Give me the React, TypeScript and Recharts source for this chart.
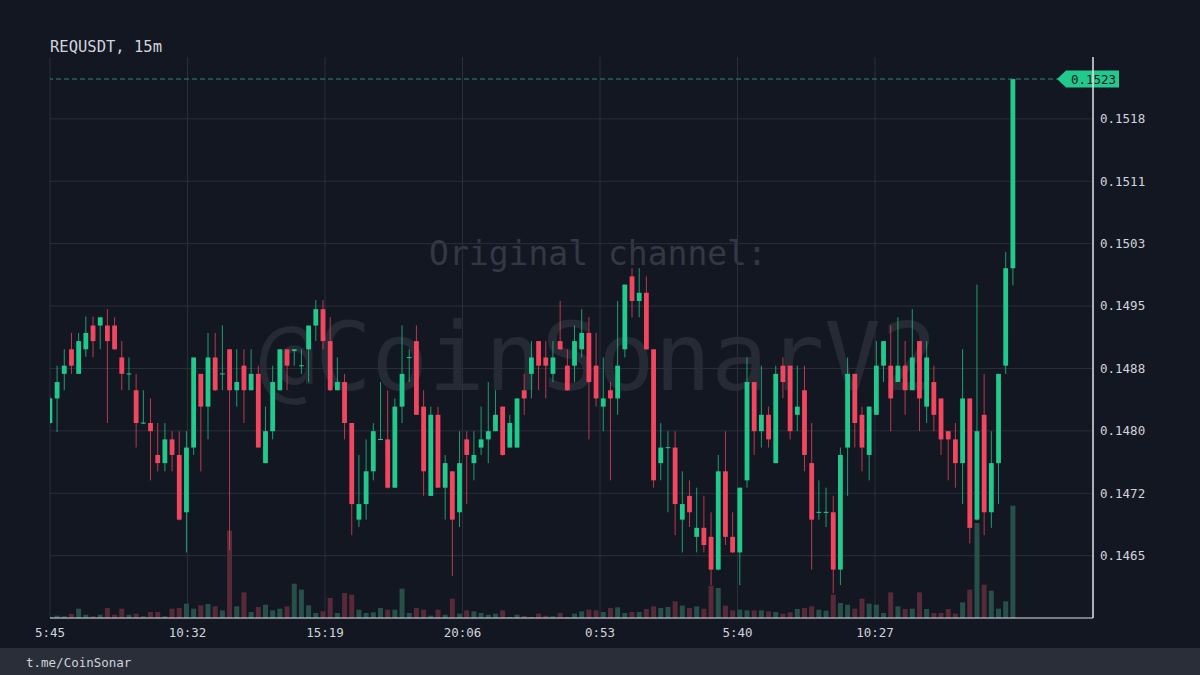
import React from "react";
import {
  ComposedChart,
  Bar,
  Cell,
  XAxis,
  YAxis,
  CartesianGrid,
  ReferenceLine,
} from "recharts";

// REQUSDT 15m candles
const OPEN = [
  0.1481, 0.1484, 0.1487, 0.149, 0.1487, 0.149, 0.14929, 0.14929, 0.14929, 0.14929,
  0.1489, 0.148695, 0.1485, 0.148095, 0.1481, 0.14771, 0.14761, 0.1479, 0.14771, 0.14701,
  0.1478, 0.1487, 0.1483, 0.1489, 0.148695, 0.149, 0.1485, 0.1488, 0.1485, 0.1487,
  0.14761, 0.148, 0.1485, 0.149, 0.14898, 0.148795, 0.149, 0.14929, 0.14949, 0.1491,
  0.1485, 0.1486, 0.1481, 0.14692, 0.14711, 0.14751, 0.147895, 0.1479, 0.14731, 0.1483,
  0.148895, 0.1491, 0.1483, 0.14721, 0.1482, 0.14731, 0.14751, 0.14701, 0.1479, 0.14761,
  0.1478, 0.1479, 0.148, 0.1483, 0.1478, 0.1478, 0.1485, 0.1487, 0.1491, 0.1489,
  0.1487, 0.1491, 0.1488, 0.1488, 0.149, 0.1492, 0.1488, 0.1483, 0.1485, 0.1484,
  0.149, 0.14989, 0.14959, 0.14969, 0.149, 0.14761, 0.147795, 0.1478, 0.14692, 0.14721,
  0.14671, 0.14682, 0.14671, 0.14631, 0.14751, 0.14671, 0.14652, 0.1474, 0.1486, 0.148,
  0.1482, 0.14761, 0.1488, 0.1488, 0.1482, 0.1485, 0.14761, 0.147005, 0.147005, 0.14701,
  0.14631, 0.1478, 0.1487, 0.1482, 0.14771, 0.1482, 0.1488, 0.1488, 0.1486, 0.1488,
  0.1485, 0.1491, 0.1483, 0.1486, 0.1484, 0.148, 0.1479, 0.14761, 0.1484, 0.14692,
  0.1482, 0.14701, 0.14761, 0.1488, 0.14999,
];
const HIGH = [
  0.14842, 0.1488, 0.149, 0.1492, 0.1492, 0.1494, 0.1494, 0.14939, 0.14949, 0.14939,
  0.1491, 0.1489, 0.1487, 0.1485, 0.1484, 0.1481, 0.1481, 0.148, 0.148, 0.148,
  0.1489, 0.1487, 0.1492, 0.1492, 0.14929, 0.149, 0.149, 0.149, 0.149, 0.1488,
  0.1483, 0.1488, 0.149, 0.149, 0.149, 0.149, 0.14929, 0.1496, 0.1496, 0.14939,
  0.1489, 0.1487, 0.1481, 0.14771, 0.1479, 0.1481, 0.1486, 0.1485, 0.1484, 0.14929,
  0.149, 0.14929, 0.1485, 0.1483, 0.1483, 0.14771, 0.14751, 0.148, 0.148, 0.148,
  0.1483, 0.1486, 0.1485, 0.1483, 0.1482, 0.1484, 0.1487, 0.1491, 0.1491, 0.1491,
  0.1491, 0.14959, 0.149, 0.14929, 0.14949, 0.14939, 0.1492, 0.1489, 0.1486, 0.14959,
  0.14979, 0.14999, 0.14999, 0.14989, 0.149, 0.1481, 0.148, 0.148, 0.14751, 0.1474,
  0.14731, 0.14721, 0.14701, 0.14771, 0.148, 0.14701, 0.14731, 0.1489, 0.1486, 0.1488,
  0.1483, 0.1488, 0.1489, 0.1488, 0.1488, 0.1488, 0.1481, 0.1474, 0.14731, 0.14721,
  0.1478, 0.1489, 0.1487, 0.1483, 0.1483, 0.1491, 0.1491, 0.14929, 0.14939, 0.1491,
  0.14949, 0.1491, 0.1491, 0.1488, 0.1484, 0.148, 0.1481, 0.149, 0.1484, 0.14979,
  0.1487, 0.148, 0.1487, 0.15019, 0.1523,
];
const LOW = [
  0.14809, 0.14799, 0.1485, 0.1487, 0.1487, 0.14891, 0.1489, 0.149, 0.1481, 0.14899,
  0.1485, 0.1485, 0.1478, 0.14809, 0.1474, 0.14751, 0.14751, 0.14751, 0.14691, 0.14652,
  0.14771, 0.14751, 0.1479, 0.14849, 0.1485, 0.14655, 0.1483, 0.1481, 0.1485, 0.1478,
  0.14761, 0.1479, 0.1485, 0.1485, 0.1488, 0.1487, 0.1486, 0.1491, 0.149, 0.14849,
  0.1485, 0.1479, 0.14673, 0.14683, 0.14692, 0.1474, 0.14789, 0.1473, 0.14731, 0.1481,
  0.1486, 0.1482, 0.14721, 0.14721, 0.14731, 0.14692, 0.14623, 0.14683, 0.14711, 0.1474,
  0.14771, 0.14761, 0.148, 0.1477, 0.1478, 0.1478, 0.1482, 0.1484, 0.1485, 0.1484,
  0.1486, 0.14899, 0.14849, 0.1486, 0.1489, 0.1479, 0.1483, 0.148, 0.1474, 0.1482,
  0.1489, 0.14939, 0.14939, 0.14899, 0.14731, 0.1474, 0.14701, 0.14673, 0.14652, 0.14683,
  0.14652, 0.14652, 0.14612, 0.1463, 0.14661, 0.14651, 0.14612, 0.14731, 0.14771, 0.1478,
  0.1478, 0.14761, 0.1484, 0.1479, 0.148, 0.14751, 0.14631, 0.14692, 0.14683, 0.14602,
  0.14612, 0.14721, 0.1478, 0.14751, 0.1474, 0.1482, 0.1486, 0.148, 0.1486, 0.1482,
  0.1485, 0.148, 0.1481, 0.148, 0.14771, 0.1474, 0.14731, 0.14711, 0.14663, 0.14691,
  0.14673, 0.14682, 0.14711, 0.1487, 0.14978,
];
const CLOSE = [
  0.1484, 0.1486, 0.1488, 0.1488, 0.1491, 0.1492, 0.1491, 0.14939, 0.1491, 0.149,
  0.1487, 0.148705, 0.1481, 0.148105, 0.148, 0.14761, 0.1479, 0.14771, 0.14692, 0.1478,
  0.1489, 0.1483, 0.1489, 0.1485, 0.148705, 0.1485, 0.1486, 0.1485, 0.1487, 0.1478,
  0.148, 0.1486, 0.149, 0.1488, 0.149, 0.148805, 0.14929, 0.14949, 0.1491, 0.1485,
  0.1486, 0.1481, 0.14711, 0.14711, 0.14751, 0.148, 0.147905, 0.14731, 0.1483, 0.1487,
  0.148905, 0.1482, 0.14751, 0.1482, 0.14731, 0.14761, 0.14692, 0.14761, 0.14771, 0.14771,
  0.1479, 0.148, 0.1482, 0.14771, 0.1481, 0.1484, 0.1484, 0.1489, 0.1488, 0.1488,
  0.1489, 0.149, 0.1485, 0.1491, 0.1492, 0.1486, 0.1484, 0.1484, 0.1484, 0.1488,
  0.14979, 0.14959, 0.14969, 0.149, 0.1474, 0.1478, 0.147805, 0.14711, 0.14711, 0.14701,
  0.14682, 0.14661, 0.14631, 0.14751, 0.14671, 0.14652, 0.14731, 0.1486, 0.148, 0.1482,
  0.1479, 0.1487, 0.1486, 0.148, 0.1483, 0.14771, 0.14692, 0.147015, 0.147015, 0.14631,
  0.14771, 0.1487, 0.1481, 0.1478, 0.1483, 0.1488, 0.1491, 0.1484, 0.1488, 0.1485,
  0.1489, 0.1484, 0.1489, 0.1482, 0.1479, 0.1479, 0.14761, 0.1484, 0.14682, 0.148,
  0.14701, 0.14761, 0.1487, 0.14999, 0.1523,
];
// relative volume per candle
const VOLUME = [
  3, 7, 5, 12, 28, 10, 5, 10, 30, 10,
  28, 10, 13, 5, 18, 18, 5, 28, 30, 43,
  28, 38, 42, 35, 23, 262, 35, 77, 18, 33,
  40, 23, 28, 35, 103, 85, 38, 15, 20, 60,
  15, 75, 70, 25, 15, 17, 30, 25, 25, 88,
  15, 30, 25, 7, 25, 10, 58, 13, 23, 20,
  15, 10, 13, 23, 3, 10, 6, 3, 13, 7,
  5, 15, 3, 13, 20, 25, 23, 18, 30, 32,
  15, 18, 18, 27, 35, 30, 33, 50, 37, 30,
  35, 28, 97, 90, 37, 23, 25, 23, 23, 23,
  20, 18, 13, 17, 27, 30, 35, 25, 22, 70,
  45, 40, 28, 58, 43, 40, 15, 77, 35, 27,
  28, 77, 27, 15, 15, 27, 13, 47, 85, 285,
  100, 82, 28, 50, 337,
];

// minutes from 5:45, candle every 15m
const TIME_TICKS = [0, 287, 574, 861, 1148, 1435, 1722];
const TIME_LABELS = ["5:45", "10:32", "15:19", "20:06", "0:53", "5:40", "10:27"];
const TIME_END = 2177;
const PRICE_TICKS = [0.14648, 0.147242, 0.148004, 0.148766, 0.149528, 0.15029, 0.151052, 0.151814];
const PRICE_LABELS = ["0.1465", "0.1472", "0.1480", "0.1488", "0.1495", "0.1503", "0.1511", "0.1518"];

const FONT = "'DejaVu Sans Mono', monospace";
const BG = "#131722";
const GREEN = "#22c98d";
const RED = "#f0465f";
const VOL_GREEN = "#27504a";
const VOL_RED = "#562a38";
const AXIS = "#e0e3eb";
const LAST_PRICE = CLOSE[CLOSE.length - 1];

const rows = OPEN.map((o, i) => ({
  t: i * 15,
  o,
  h: HIGH[i],
  l: LOW[i],
  c: CLOSE[i],
  v: VOLUME[i],
  up: CLOSE[i] >= o,
}));

function Candle(props: any) {
  const { x, width, payload } = props;
  let { y, height } = props;
  if (!payload || y == null || height == null) return null;
  if (height < 0) {
    y += height;
    height = -height;
  }
  const { o, h, l, c, up } = payload;
  const color = up ? GREEN : RED;
  const mid = x + width / 2;
  const k = height / (h - l);
  const top = y + (h - Math.max(o, c)) * k;
  const bot = y + (h - Math.min(o, c)) * k;
  return (
    <g>
      <line x1={mid} x2={mid} y1={y} y2={y + height} stroke={color} strokeOpacity={0.75} />
      <rect x={mid - 2.4} y={top} width={4.8} height={Math.max(1, bot - top)} fill={color} />
    </g>
  );
}

function PriceTag(props: any) {
  const vb = props.viewBox || {};
  const right = vb.x + vb.width;
  const y = vb.y;
  const tip = right - 36;
  const body = right - 27;
  const end = right + 26;
  return (
    <g>
      <polygon
        points={`${tip},${y} ${body},${y - 8.5} ${end},${y - 8.5} ${end},${y + 8.5} ${body},${y + 8.5}`}
        fill={GREEN}
      />
      <text
        x={(body + end) / 2 + 1}
        y={y}
        dy="0.36em"
        textAnchor="middle"
        fill={BG}
        fontSize={12.5}
        fontFamily={FONT}
      >
        {LAST_PRICE.toFixed(4)}
      </text>
    </g>
  );
}

const tickStyle = { fill: "#d1d4dc", fontSize: 12.5, fontFamily: FONT };

export default function App() {
  return (
    <div style={{ position: "absolute", left: 0, top: 0, width: 1200, height: 675, background: BG, overflow: "hidden" }}>
      <svg width={1200} height={675} style={{ position: "absolute", left: 0, top: 0 }}>
        <text x={598} y={265} textAnchor="middle" fontFamily={FONT} fontSize={33} fill="#343844">
          Original channel:
        </text>
        <text x={598} y={390} textAnchor="middle" fontFamily={FONT} fontSize={94} fill="#262a35">
          @CoinSonarV2
        </text>
        <text x={50} y={52} fontFamily={FONT} fontSize={15.5} fill="#d1d4dc">
          REQUSDT, 15m
        </text>
        <rect x={0} y={648} width={1200} height={27} fill="#2a2e39" />
        <text x={26} y={667} fontFamily={FONT} fontSize={12.5} fill="#d1d4dc">
          t.me/CoinSonar
        </text>
      </svg>
      <div style={{ position: "absolute", left: 0, top: 0 }}>
        <ComposedChart
          width={1200}
          height={675}
          data={rows}
          margin={{ top: 57, right: 0, bottom: 27, left: 50 }}
        >
          <CartesianGrid stroke="#2a2e39" strokeWidth={1} syncWithTicks />
          <XAxis
            type="number"
            dataKey="t"
            domain={[0, TIME_END]}
            allowDataOverflow
            ticks={TIME_TICKS}
            interval={0}
            tickFormatter={(v: number) => TIME_LABELS[TIME_TICKS.indexOf(v)] ?? ""}
            tick={tickStyle}
            tickLine={false}
            tickMargin={4}
            axisLine={{ stroke: AXIS }}
            height={30}
          />
          <XAxis xAxisId="v" type="number" dataKey="t" domain={[0, TIME_END]} allowDataOverflow hide />
          <YAxis
            orientation="right"
            type="number"
            domain={[0.145719, 0.152569]}
            allowDataOverflow
            ticks={PRICE_TICKS}
            interval={0}
            tickFormatter={(v: number) => PRICE_LABELS[PRICE_TICKS.indexOf(v)] ?? ""}
            tick={{ ...tickStyle, textAnchor: "start" }}
            tickLine={false}
            tickMargin={1}
            axisLine={{ stroke: AXIS }}
            width={107}
          />
          <YAxis yAxisId="v" type="number" domain={[0, 1683]} allowDataOverflow hide />
          <Bar xAxisId="v" yAxisId="v" dataKey="v" barSize={5} isAnimationActive={false}>
            {rows.map((r, i) => (
              <Cell key={i} fill={r.up ? VOL_GREEN : VOL_RED} />
            ))}
          </Bar>
          <Bar
            dataKey={(d: any) => [d.l, d.h]}
            barSize={5}
            isAnimationActive={false}
            shape={(p: any) => <Candle {...p} />}
          />
          <ReferenceLine
            y={LAST_PRICE}
            stroke="#2f8a6c"
            strokeDasharray="5 3"
            label={<PriceTag />}
          />
          <ReferenceLine x={TIME_END} stroke={AXIS} />
        </ComposedChart>
      </div>
    </div>
  );
}
